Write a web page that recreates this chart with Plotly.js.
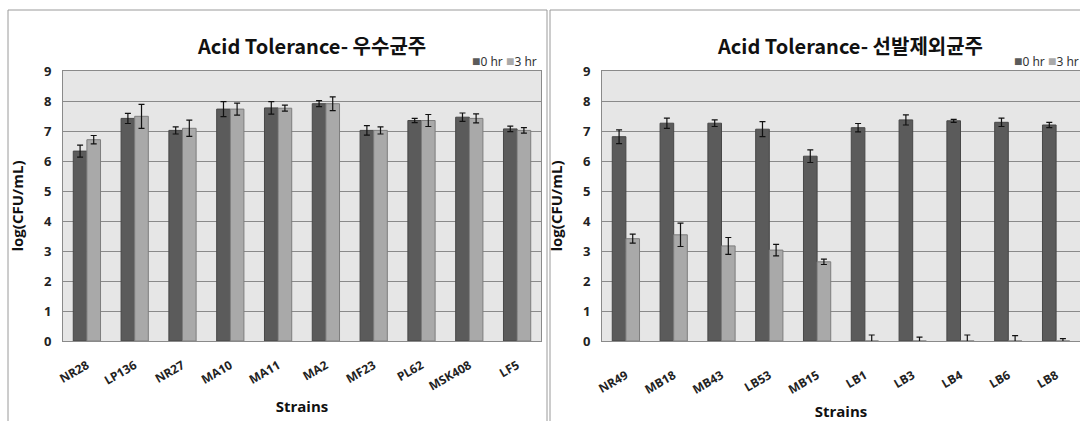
<!DOCTYPE html>
<html>
<head>
<meta charset="utf-8">
<script src="https://cdn.plot.ly/plotly-3.0.1.min.js"></script>
<style>html,body{margin:0;padding:0;background:#fff;}#chart{width:1080px;height:421px;}</style>
</head>
<body>
<div id="chart"></div>
<script>
// Left panel: 우수균주
const strainsA = ["NR28","LP136","NR27","MA10","MA11","MA2","MF23","PL62","MSK408","LF5"];
const a0hr = [6.33,7.42,7.02,7.73,7.77,7.91,7.02,7.35,7.46,7.07];
const a0hrErr = [0.20,0.17,0.12,0.25,0.21,0.10,0.16,0.07,0.14,0.09];
const a3hr = [6.71,7.49,7.09,7.73,7.76,7.91,7.02,7.35,7.42,7.02];
const a3hrErr = [0.14,0.40,0.27,0.20,0.10,0.23,0.12,0.20,0.15,0.09];
// Right panel: 선발제외균주
const strainsB = ["NR49","MB18","MB43","LB53","MB15","LB1","LB3","LB4","LB6","LB8"];
const b0hr = [6.81,7.26,7.26,7.06,6.16,7.11,7.37,7.34,7.29,7.20];
const b0hrErr = [0.23,0.17,0.11,0.25,0.21,0.14,0.17,0.05,0.14,0.09];
const b3hr = [3.41,3.54,3.17,3.03,2.64,0,0,0,0,0];
const b3hrErr = [0.15,0.39,0.28,0.19,0.09,0.20,0.13,0.20,0.18,0.08];
const yTicks = [0,1,2,3,4,5,6,7,8,9];
const seriesNames = ["0 hr","3 hr"];
const titles = ["Acid Tolerance- 우수균주","Acid Tolerance- 선발제외균주"];

const DARK = "#5b5b5b", LIGHT = "#a9a9a9";
const W = 1080, H = 421;
const px = v => v / W, py = v => 1 - v / H;

function barTrace(x, y, err, name, color, lineColor, xa, ya) {
  return {
    type: "bar", x: x, y: y, name: name, xaxis: xa, yaxis: ya,
    marker: {color: color, line: {color: lineColor, width: 1}},
    error_y: {type: "data", array: err, visible: true, color: "#111", thickness: 1.2, width: 3},
    showlegend: false, hoverinfo: "x+y"
  };
}

const data = [
  barTrace(strainsA, a0hr, a0hrErr, seriesNames[0], DARK, "#474747", "x", "y"),
  barTrace(strainsA, a3hr, a3hrErr, seriesNames[1], LIGHT, "#7d7d7d", "x", "y"),
  barTrace(strainsB, b0hr, b0hrErr, seriesNames[0], DARK, "#474747", "x2", "y2"),
  barTrace(strainsB, b3hr, b3hrErr, seriesNames[1], LIGHT, "#7d7d7d", "x2", "y2")
];

const tickFont = {family: "Open Sans, Noto Sans, sans-serif", size: 12, color: "#222", weight: "bold"};
const yTickFont = {family: "Open Sans, Noto Sans, sans-serif", size: 13, color: "#222", weight: "bold"};
const axTitleFont = {family: "Open Sans, Noto Sans, sans-serif", size: 15, color: "#111", weight: "bold"};

function xAxis(domain, anchor, labelOff, titleOff) {
  return {
    domain: domain, anchor: anchor, type: "category",
    tickangle: -30, tickfont: tickFont, ticks: "", ticklabelstandoff: labelOff,
    showline: true, linecolor: "#8a8a8a", mirror: true,
    title: {text: "Strains", font: axTitleFont, standoff: titleOff},
    automargin: false, fixedrange: true
  };
}
function yAxis(anchor) {
  return {
    domain: [py(341), py(71)], anchor: anchor, range: [0, 9],
    tickvals: yTicks, ticktext: yTicks.map(String), tickfont: yTickFont,
    ticklabelstandoff: 8,
    showgrid: true, gridcolor: "#8a8a8a", gridwidth: 1, zeroline: false,
    showline: true, linecolor: "#8a8a8a", mirror: true, ticks: "",
    title: {text: "log(CFU/mL)", font: axTitleFont},
    automargin: false, fixedrange: true
  };
}

const legendText = '<span style="color:' + DARK + ';font-size:14px">■</span>' + seriesNames[0] +
  ' <span style="color:' + LIGHT + ';font-size:14px">■</span>' + seriesNames[1];
const titleFont = {family: "Noto Sans CJK KR, Noto Sans, sans-serif", size: 20, color: "#111", weight: "bold"};
const legFont = {family: "Noto Sans, Open Sans, sans-serif", size: 12, color: "#333"};

const layout = {
  width: W, height: H,
  margin: {l: 0, r: 0, t: 0, b: 0},
  paper_bgcolor: "#ffffff", plot_bgcolor: "#e6e6e6",
  barmode: "group", bargap: 0.43, bargroupgap: 0,
  showlegend: false,
  xaxis: xAxis([px(63), px(541)], "y", 12, 8),
  yaxis: yAxis("x"),
  xaxis2: xAxis([px(602), px(1081)], "y2", 22, 10),
  yaxis2: yAxis("x2"),
  annotations: [
    {text: titles[0], xref: "paper", yref: "paper", x: px(311), y: py(45), showarrow: false, font: titleFont, xanchor: "center", yanchor: "middle"},
    {text: titles[1], xref: "paper", yref: "paper", x: px(850), y: py(45), showarrow: false, font: titleFont, xanchor: "center", yanchor: "middle"},
    {text: legendText, xref: "paper", yref: "paper", x: px(539), y: py(60), showarrow: false, font: legFont, xanchor: "right", yanchor: "middle"},
    {text: legendText, xref: "paper", yref: "paper", x: px(1081), y: py(60), showarrow: false, font: legFont, xanchor: "right", yanchor: "middle"}
  ],
  shapes: [
    {type: "rect", xref: "paper", yref: "paper", x0: px(8), x1: px(547), y0: -0.1, y1: py(10), line: {color: "#9a9a9a", width: 1}, layer: "below"},
    {type: "rect", xref: "paper", yref: "paper", x0: px(550), x1: 1.1, y0: -0.1, y1: py(10), line: {color: "#9a9a9a", width: 1}, layer: "below"}
  ]
};

Plotly.newPlot("chart", data, layout, {displayModeBar: false, staticPlot: true});
</script>
</body>
</html>
